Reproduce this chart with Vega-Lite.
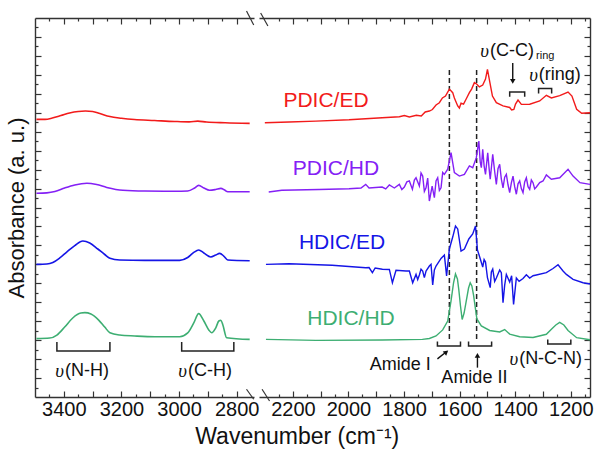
{
  "$schema": "https://vega.github.io/schema/vega-lite/v6.json",
  "background": "white",
  "padding": {"left": 5, "top": 10, "right": 5, "bottom": 2},
  "spacing": 0,
  "config": {
    "view": {"stroke": null},
    "font": "Liberation Sans",
    "axis": {"grid": false, "domainColor": "#333", "domainWidth": 1.4, "tickColor": "#333", "tickWidth": 1.2, "labelColor": "#111", "labelFontSize": 20, "titleColor": "#111", "titleFontWeight": "normal"},
    "text": {"font": "Liberation Sans"}
  },
  "title": {"text": "Wavenumber (cm⁻¹)", "orient": "bottom", "anchor": "middle", "fontSize": 23, "fontWeight": "normal", "color": "#111", "offset": 4, "dx": -2},
  "datasets": {
    "leftSpectra": [
      {"s":"PDIC/ED","w":3495,"a":14.65},{"s":"PDIC/ED","w":3465,"a":14.65},{"s":"PDIC/ED","w":3440,"a":14.72},{"s":"PDIC/ED","w":3410,"a":14.85},{"s":"PDIC/ED","w":3380,"a":14.99},{"s":"PDIC/ED","w":3350,"a":15.07},{"s":"PDIC/ED","w":3325,"a":15.09},{"s":"PDIC/ED","w":3300,"a":15.07},{"s":"PDIC/ED","w":3275,"a":14.96},{"s":"PDIC/ED","w":3240,"a":14.80},{"s":"PDIC/ED","w":3200,"a":14.71},{"s":"PDIC/ED","w":3155,"a":14.64},{"s":"PDIC/ED","w":3085,"a":14.59},{"s":"PDIC/ED","w":3015,"a":14.54},{"s":"PDIC/ED","w":2965,"a":14.52},{"s":"PDIC/ED","w":2935,"a":14.56},{"s":"PDIC/ED","w":2905,"a":14.51},{"s":"PDIC/ED","w":2840,"a":14.47},{"s":"PDIC/ED","w":2755,"a":14.44},
      {"s":"PDIC/HD","w":3495,"a":10.75},{"s":"PDIC/HD","w":3459,"a":10.77},{"s":"PDIC/HD","w":3431,"a":10.84},{"s":"PDIC/HD","w":3397,"a":11.03},{"s":"PDIC/HD","w":3362,"a":11.19},{"s":"PDIC/HD","w":3320,"a":11.28},{"s":"PDIC/HD","w":3286,"a":11.21},{"s":"PDIC/HD","w":3251,"a":11.06},{"s":"PDIC/HD","w":3195,"a":10.91},{"s":"PDIC/HD","w":3119,"a":10.87},{"s":"PDIC/HD","w":3015,"a":10.86},{"s":"PDIC/HD","w":2970,"a":10.87},{"s":"PDIC/HD","w":2946,"a":11.03},{"s":"PDIC/HD","w":2932,"a":11.17},{"s":"PDIC/HD","w":2914,"a":11.03},{"s":"PDIC/HD","w":2894,"a":10.91},{"s":"PDIC/HD","w":2873,"a":10.95},{"s":"PDIC/HD","w":2855,"a":11.01},{"s":"PDIC/HD","w":2842,"a":10.92},{"s":"PDIC/HD","w":2831,"a":10.83},{"s":"PDIC/HD","w":2755,"a":10.83},
      {"s":"HDIC/ED","w":3495,"a":7.00},{"s":"HDIC/ED","w":3459,"a":7.02},{"s":"HDIC/ED","w":3438,"a":7.10},{"s":"HDIC/ED","w":3414,"a":7.34},{"s":"HDIC/ED","w":3390,"a":7.65},{"s":"HDIC/ED","w":3362,"a":7.99},{"s":"HDIC/ED","w":3334,"a":8.23},{"s":"HDIC/ED","w":3310,"a":8.13},{"s":"HDIC/ED","w":3282,"a":7.81},{"s":"HDIC/ED","w":3258,"a":7.52},{"s":"HDIC/ED","w":3240,"a":7.32},{"s":"HDIC/ED","w":3206,"a":7.23},{"s":"HDIC/ED","w":3119,"a":7.21},{"s":"HDIC/ED","w":2998,"a":7.21},{"s":"HDIC/ED","w":2970,"a":7.36},{"s":"HDIC/ED","w":2949,"a":7.63},{"s":"HDIC/ED","w":2932,"a":7.76},{"s":"HDIC/ED","w":2914,"a":7.60},{"s":"HDIC/ED","w":2890,"a":7.39},{"s":"HDIC/ED","w":2873,"a":7.49},{"s":"HDIC/ED","w":2859,"a":7.58},{"s":"HDIC/ED","w":2845,"a":7.44},{"s":"HDIC/ED","w":2831,"a":7.23},{"s":"HDIC/ED","w":2755,"a":7.19},
      {"s":"HDIC/HD","w":3495,"a":3.08},{"s":"HDIC/HD","w":3449,"a":3.11},{"s":"HDIC/HD","w":3424,"a":3.27},{"s":"HDIC/HD","w":3397,"a":3.69},{"s":"HDIC/HD","w":3369,"a":4.17},{"s":"HDIC/HD","w":3341,"a":4.43},{"s":"HDIC/HD","w":3327,"a":4.45},{"s":"HDIC/HD","w":3306,"a":4.38},{"s":"HDIC/HD","w":3279,"a":4.06},{"s":"HDIC/HD","w":3258,"a":3.69},{"s":"HDIC/HD","w":3240,"a":3.39},{"s":"HDIC/HD","w":3206,"a":3.27},{"s":"HDIC/HD","w":3154,"a":3.22},{"s":"HDIC/HD","w":3084,"a":3.18},{"s":"HDIC/HD","w":2998,"a":3.18},{"s":"HDIC/HD","w":2970,"a":3.38},{"s":"HDIC/HD","w":2949,"a":3.91},{"s":"HDIC/HD","w":2932,"a":4.40},{"s":"HDIC/HD","w":2914,"a":4.01},{"s":"HDIC/HD","w":2897,"a":3.54},{"s":"HDIC/HD","w":2887,"a":3.39},{"s":"HDIC/HD","w":2873,"a":3.64},{"s":"HDIC/HD","w":2862,"a":4.01},{"s":"HDIC/HD","w":2855,"a":4.05},{"s":"HDIC/HD","w":2848,"a":3.80},{"s":"HDIC/HD","w":2835,"a":3.13},{"s":"HDIC/HD","w":2755,"a":3.04}
    ],
    "rightSpectra": [
      {"s":"PDIC/ED","w":2301,"a":14.47},{"s":"PDIC/ED","w":2214,"a":14.51},{"s":"PDIC/ED","w":2117,"a":14.56},{"s":"PDIC/ED","w":1998,"a":14.63},{"s":"PDIC/ED","w":1879,"a":14.74},{"s":"PDIC/ED","w":1817,"a":14.79},{"s":"PDIC/ED","w":1799,"a":14.85},{"s":"PDIC/ED","w":1781,"a":14.78},{"s":"PDIC/ED","w":1756,"a":14.87},{"s":"PDIC/ED","w":1738,"a":14.83},{"s":"PDIC/ED","w":1724,"a":15.04},{"s":"PDIC/ED","w":1709,"a":15.09},{"s":"PDIC/ED","w":1698,"a":15.17},{"s":"PDIC/ED","w":1685,"a":15.41},{"s":"PDIC/ED","w":1673,"a":15.53},{"s":"PDIC/ED","w":1662,"a":15.78},{"s":"PDIC/ED","w":1651,"a":15.88},{"s":"PDIC/ED","w":1637,"a":16.25},{"s":"PDIC/ED","w":1625,"a":16.06},{"s":"PDIC/ED","w":1619,"a":15.78},{"s":"PDIC/ED","w":1607,"a":15.36},{"s":"PDIC/ED","w":1601,"a":15.25},{"s":"PDIC/ED","w":1595,"a":15.51},{"s":"PDIC/ED","w":1586,"a":15.46},{"s":"PDIC/ED","w":1577,"a":15.71},{"s":"PDIC/ED","w":1565,"a":16.06},{"s":"PDIC/ED","w":1557,"a":16.25},{"s":"PDIC/ED","w":1547,"a":16.59},{"s":"PDIC/ED","w":1539,"a":16.52},{"s":"PDIC/ED","w":1529,"a":16.36},{"s":"PDIC/ED","w":1517,"a":16.46},{"s":"PDIC/ED","w":1507,"a":16.78},{"s":"PDIC/ED","w":1500,"a":17.29},{"s":"PDIC/ED","w":1490,"a":16.50},{"s":"PDIC/ED","w":1482,"a":15.88},{"s":"PDIC/ED","w":1468,"a":15.53},{"s":"PDIC/ED","w":1444,"a":15.36},{"s":"PDIC/ED","w":1420,"a":15.28},{"s":"PDIC/ED","w":1413,"a":15.15},{"s":"PDIC/ED","w":1405,"a":15.18},{"s":"PDIC/ED","w":1399,"a":15.46},{"s":"PDIC/ED","w":1390,"a":15.67},{"s":"PDIC/ED","w":1378,"a":15.44},{"s":"PDIC/ED","w":1348,"a":15.45},{"s":"PDIC/ED","w":1312,"a":15.62},{"s":"PDIC/ED","w":1288,"a":15.92},{"s":"PDIC/ED","w":1270,"a":15.78},{"s":"PDIC/ED","w":1240,"a":15.90},{"s":"PDIC/ED","w":1210,"a":16.09},{"s":"PDIC/ED","w":1196,"a":15.88},{"s":"PDIC/ED","w":1179,"a":15.18},{"s":"PDIC/ED","w":1161,"a":14.97},{"s":"PDIC/ED","w":1131,"a":15.00},
      {"s":"PDIC/HD","w":2287,"a":10.82},{"s":"PDIC/HD","w":2240,"a":10.91},{"s":"PDIC/HD","w":2106,"a":10.95},{"s":"PDIC/HD","w":1998,"a":10.99},{"s":"PDIC/HD","w":1955,"a":11.03},{"s":"PDIC/HD","w":1938,"a":11.22},{"s":"PDIC/HD","w":1926,"a":11.03},{"s":"PDIC/HD","w":1879,"a":11.08},{"s":"PDIC/HD","w":1866,"a":10.98},{"s":"PDIC/HD","w":1853,"a":11.19},{"s":"PDIC/HD","w":1835,"a":11.03},{"s":"PDIC/HD","w":1817,"a":11.22},{"s":"PDIC/HD","w":1808,"a":10.95},{"s":"PDIC/HD","w":1799,"a":11.08},{"s":"PDIC/HD","w":1790,"a":11.35},{"s":"PDIC/HD","w":1781,"a":11.40},{"s":"PDIC/HD","w":1770,"a":10.96},{"s":"PDIC/HD","w":1763,"a":11.45},{"s":"PDIC/HD","w":1757,"a":11.57},{"s":"PDIC/HD","w":1745,"a":11.13},{"s":"PDIC/HD","w":1739,"a":11.82},{"s":"PDIC/HD","w":1733,"a":11.66},{"s":"PDIC/HD","w":1727,"a":10.85},{"s":"PDIC/HD","w":1721,"a":11.04},{"s":"PDIC/HD","w":1715,"a":11.55},{"s":"PDIC/HD","w":1709,"a":10.34},{"s":"PDIC/HD","w":1699,"a":11.13},{"s":"PDIC/HD","w":1691,"a":10.52},{"s":"PDIC/HD","w":1685,"a":11.40},{"s":"PDIC/HD","w":1679,"a":11.57},{"s":"PDIC/HD","w":1673,"a":10.90},{"s":"PDIC/HD","w":1667,"a":11.04},{"s":"PDIC/HD","w":1661,"a":11.85},{"s":"PDIC/HD","w":1655,"a":11.75},{"s":"PDIC/HD","w":1643,"a":12.02},{"s":"PDIC/HD","w":1631,"a":12.89},{"s":"PDIC/HD","w":1619,"a":11.84},{"s":"PDIC/HD","w":1601,"a":11.66},{"s":"PDIC/HD","w":1583,"a":11.75},{"s":"PDIC/HD","w":1565,"a":12.19},{"s":"PDIC/HD","w":1553,"a":12.10},{"s":"PDIC/HD","w":1540,"a":12.63},{"s":"PDIC/HD","w":1531,"a":13.51},{"s":"PDIC/HD","w":1526,"a":12.40},{"s":"PDIC/HD","w":1522,"a":12.10},{"s":"PDIC/HD","w":1517,"a":13.07},{"s":"PDIC/HD","w":1512,"a":12.20},{"s":"PDIC/HD","w":1507,"a":11.75},{"s":"PDIC/HD","w":1499,"a":12.89},{"s":"PDIC/HD","w":1494,"a":12.05},{"s":"PDIC/HD","w":1490,"a":11.49},{"s":"PDIC/HD","w":1481,"a":12.81},{"s":"PDIC/HD","w":1474,"a":11.90},{"s":"PDIC/HD","w":1468,"a":11.22},{"s":"PDIC/HD","w":1462,"a":12.05},{"s":"PDIC/HD","w":1456,"a":12.28},{"s":"PDIC/HD","w":1450,"a":11.50},{"s":"PDIC/HD","w":1444,"a":11.04},{"s":"PDIC/HD","w":1438,"a":11.60},{"s":"PDIC/HD","w":1432,"a":11.75},{"s":"PDIC/HD","w":1426,"a":11.20},{"s":"PDIC/HD","w":1420,"a":10.78},{"s":"PDIC/HD","w":1414,"a":11.30},{"s":"PDIC/HD","w":1408,"a":11.66},{"s":"PDIC/HD","w":1402,"a":11.10},{"s":"PDIC/HD","w":1396,"a":10.70},{"s":"PDIC/HD","w":1390,"a":11.25},{"s":"PDIC/HD","w":1384,"a":11.40},{"s":"PDIC/HD","w":1378,"a":11.00},{"s":"PDIC/HD","w":1372,"a":10.78},{"s":"PDIC/HD","w":1366,"a":11.35},{"s":"PDIC/HD","w":1360,"a":11.57},{"s":"PDIC/HD","w":1354,"a":11.10},{"s":"PDIC/HD","w":1348,"a":10.96},{"s":"PDIC/HD","w":1342,"a":11.45},{"s":"PDIC/HD","w":1336,"a":11.31},{"s":"PDIC/HD","w":1330,"a":10.98},{"s":"PDIC/HD","w":1324,"a":11.08},{"s":"PDIC/HD","w":1312,"a":11.31},{"s":"PDIC/HD","w":1300,"a":11.40},{"s":"PDIC/HD","w":1288,"a":11.72},{"s":"PDIC/HD","w":1270,"a":11.49},{"s":"PDIC/HD","w":1240,"a":11.57},{"s":"PDIC/HD","w":1210,"a":12.02},{"s":"PDIC/HD","w":1192,"a":11.66},{"s":"PDIC/HD","w":1167,"a":11.31},{"s":"PDIC/HD","w":1131,"a":11.22},
      {"s":"HDIC/ED","w":2297,"a":7.00},{"s":"HDIC/ED","w":2214,"a":7.03},{"s":"HDIC/ED","w":2059,"a":6.95},{"s":"HDIC/ED","w":1938,"a":6.82},{"s":"HDIC/ED","w":1926,"a":6.83},{"s":"HDIC/ED","w":1914,"a":6.56},{"s":"HDIC/ED","w":1904,"a":6.81},{"s":"HDIC/ED","w":1878,"a":6.74},{"s":"HDIC/ED","w":1853,"a":6.73},{"s":"HDIC/ED","w":1842,"a":6.03},{"s":"HDIC/ED","w":1829,"a":6.69},{"s":"HDIC/ED","w":1793,"a":6.65},{"s":"HDIC/ED","w":1781,"a":6.65},{"s":"HDIC/ED","w":1769,"a":6.03},{"s":"HDIC/ED","w":1757,"a":6.47},{"s":"HDIC/ED","w":1751,"a":6.20},{"s":"HDIC/ED","w":1745,"a":6.44},{"s":"HDIC/ED","w":1739,"a":6.75},{"s":"HDIC/ED","w":1733,"a":6.65},{"s":"HDIC/ED","w":1727,"a":6.30},{"s":"HDIC/ED","w":1721,"a":6.65},{"s":"HDIC/ED","w":1709,"a":6.91},{"s":"HDIC/ED","w":1703,"a":7.00},{"s":"HDIC/ED","w":1697,"a":5.91},{"s":"HDIC/ED","w":1691,"a":6.70},{"s":"HDIC/ED","w":1685,"a":6.91},{"s":"HDIC/ED","w":1667,"a":7.31},{"s":"HDIC/ED","w":1655,"a":7.49},{"s":"HDIC/ED","w":1647,"a":6.39},{"s":"HDIC/ED","w":1637,"a":7.81},{"s":"HDIC/ED","w":1625,"a":8.44},{"s":"HDIC/ED","w":1615,"a":9.02},{"s":"HDIC/ED","w":1607,"a":8.87},{"s":"HDIC/ED","w":1595,"a":7.70},{"s":"HDIC/ED","w":1583,"a":7.81},{"s":"HDIC/ED","w":1567,"a":8.34},{"s":"HDIC/ED","w":1553,"a":8.60},{"s":"HDIC/ED","w":1543,"a":9.02},{"s":"HDIC/ED","w":1536,"a":7.76},{"s":"HDIC/ED","w":1529,"a":7.44},{"s":"HDIC/ED","w":1517,"a":6.86},{"s":"HDIC/ED","w":1512,"a":7.25},{"s":"HDIC/ED","w":1507,"a":7.12},{"s":"HDIC/ED","w":1500,"a":6.30},{"s":"HDIC/ED","w":1490,"a":5.77},{"s":"HDIC/ED","w":1486,"a":6.60},{"s":"HDIC/ED","w":1481,"a":6.75},{"s":"HDIC/ED","w":1474,"a":6.10},{"s":"HDIC/ED","w":1468,"a":6.28},{"s":"HDIC/ED","w":1456,"a":6.70},{"s":"HDIC/ED","w":1450,"a":6.56},{"s":"HDIC/ED","w":1444,"a":4.98},{"s":"HDIC/ED","w":1438,"a":5.90},{"s":"HDIC/ED","w":1432,"a":6.47},{"s":"HDIC/ED","w":1420,"a":6.07},{"s":"HDIC/ED","w":1413,"a":6.40},{"s":"HDIC/ED","w":1406,"a":4.89},{"s":"HDIC/ED","w":1396,"a":6.28},{"s":"HDIC/ED","w":1386,"a":6.10},{"s":"HDIC/ED","w":1372,"a":6.25},{"s":"HDIC/ED","w":1360,"a":6.45},{"s":"HDIC/ED","w":1348,"a":6.28},{"s":"HDIC/ED","w":1336,"a":6.40},{"s":"HDIC/ED","w":1324,"a":6.44},{"s":"HDIC/ED","w":1288,"a":6.56},{"s":"HDIC/ED","w":1264,"a":6.78},{"s":"HDIC/ED","w":1246,"a":6.98},{"s":"HDIC/ED","w":1228,"a":6.65},{"s":"HDIC/ED","w":1216,"a":6.47},{"s":"HDIC/ED","w":1192,"a":6.21},{"s":"HDIC/ED","w":1156,"a":6.03},{"s":"HDIC/ED","w":1131,"a":5.96},
      {"s":"HDIC/HD","w":2297,"a":3.04},{"s":"HDIC/HD","w":2117,"a":2.99},{"s":"HDIC/HD","w":1879,"a":3.01},{"s":"HDIC/HD","w":1734,"a":3.04},{"s":"HDIC/HD","w":1709,"a":3.09},{"s":"HDIC/HD","w":1685,"a":3.22},{"s":"HDIC/HD","w":1661,"a":3.54},{"s":"HDIC/HD","w":1643,"a":4.01},{"s":"HDIC/HD","w":1631,"a":5.07},{"s":"HDIC/HD","w":1622,"a":6.02},{"s":"HDIC/HD","w":1615,"a":6.49},{"s":"HDIC/HD","w":1608,"a":6.23},{"s":"HDIC/HD","w":1603,"a":5.65},{"s":"HDIC/HD","w":1597,"a":4.80},{"s":"HDIC/HD","w":1591,"a":4.09},{"s":"HDIC/HD","w":1584,"a":4.43},{"s":"HDIC/HD","w":1577,"a":5.01},{"s":"HDIC/HD","w":1568,"a":5.75},{"s":"HDIC/HD","w":1562,"a":6.03},{"s":"HDIC/HD","w":1556,"a":5.86},{"s":"HDIC/HD","w":1550,"a":5.38},{"s":"HDIC/HD","w":1538,"a":4.12},{"s":"HDIC/HD","w":1522,"a":3.75},{"s":"HDIC/HD","w":1492,"a":3.51},{"s":"HDIC/HD","w":1456,"a":3.43},{"s":"HDIC/HD","w":1438,"a":3.56},{"s":"HDIC/HD","w":1420,"a":3.32},{"s":"HDIC/HD","w":1384,"a":3.18},{"s":"HDIC/HD","w":1336,"a":3.14},{"s":"HDIC/HD","w":1288,"a":3.31},{"s":"HDIC/HD","w":1269,"a":3.59},{"s":"HDIC/HD","w":1254,"a":3.80},{"s":"HDIC/HD","w":1240,"a":3.94},{"s":"HDIC/HD","w":1225,"a":3.80},{"s":"HDIC/HD","w":1210,"a":3.51},{"s":"HDIC/HD","w":1179,"a":3.13},{"s":"HDIC/HD","w":1131,"a":3.02}
    ],
    "leftBrackets": [
      {"id":"NH","o":0,"w":3424,"a":2.90},{"id":"NH","o":1,"w":3424,"a":2.43},{"id":"NH","o":2,"w":3240,"a":2.43},{"id":"NH","o":3,"w":3240,"a":2.90},
      {"id":"CH","o":0,"w":2991,"a":2.90},{"id":"CH","o":1,"w":2991,"a":2.43},{"id":"CH","o":2,"w":2810,"a":2.43},{"id":"CH","o":3,"w":2810,"a":2.90}
    ],
    "rightBrackets": [
      {"id":"CC","o":0,"w":1420,"a":15.85},{"id":"CC","o":1,"w":1420,"a":16.10},{"id":"CC","o":2,"w":1366,"a":16.10},{"id":"CC","o":3,"w":1366,"a":15.85},
      {"id":"ring","o":0,"w":1316,"a":16.01},{"id":"ring","o":1,"w":1316,"a":16.28},{"id":"ring","o":2,"w":1269,"a":16.28},{"id":"ring","o":3,"w":1269,"a":16.01},
      {"id":"AmI","o":0,"w":1680,"a":2.93},{"id":"AmI","o":1,"w":1680,"a":2.69},{"id":"AmI","o":2,"w":1597,"a":2.69},{"id":"AmI","o":3,"w":1597,"a":2.93},
      {"id":"AmII","o":0,"w":1568,"a":2.93},{"id":"AmII","o":1,"w":1568,"a":2.69},{"id":"AmII","o":2,"w":1485,"a":2.69},{"id":"AmII","o":3,"w":1485,"a":2.93},
      {"id":"NCN","o":0,"w":1283,"a":3.03},{"id":"NCN","o":1,"w":1283,"a":2.80},{"id":"NCN","o":2,"w":1200,"a":2.80},{"id":"NCN","o":3,"w":1200,"a":3.03}
    ],
    "leftModes": [
      {"t":"(N-H)","w":3396,"a":1.37},
      {"t":"(C-H)","w":2969,"a":1.37}
    ],
    "rightModes": [
      {"t":"(N-C-N)","w":1386,"a":2.01},
      {"t":"(C-C)","w":1491,"a":18.26},
      {"t":"(ring)","w":1315,"a":16.99}
    ],
    "amideNotes": [
      {"t":"Amide I","w":1814,"a":1.69},
      {"t":"Amide II","w":1547,"a":1.00}
    ],
    "seriesLabels": [
      {"s":"PDIC/ED","w":2081,"a":15.62},
      {"s":"PDIC/HD","w":2045,"a":12.03},
      {"s":"HDIC/ED","w":2023,"a":8.13},
      {"s":"HDIC/HD","w":1991,"a":4.12}
    ],
    "amideLines": [
      {"w":1637,"a1":3.06,"a2":17.31},
      {"w":1539,"a1":3.06,"a2":17.31}
    ],
    "arrows": [
      {"w1":1409,"a1":17.63,"w2":1409,"a2":16.75},
      {"w1":1680,"a1":2.01,"w2":1650,"a2":2.36},
      {"w1":1536,"a1":1.55,"w2":1536,"a2":2.15}
    ],
    "leftBreaks": [
      {"w1":2766,"a1":20.37,"w2":2741,"a2":19.63},
      {"w1":2766,"a1":0.41,"w2":2741,"a2":-0.12}
    ],
    "rightBreaks": [
      {"w1":2316,"a1":20.26,"w2":2290,"a2":19.58},
      {"w1":2311,"a1":0.41,"w2":2284,"a2":-0.21}
    ]
  },
  "hconcat": [
    {
      "width": 219,
      "height": 379,
      "layer": [
        {
          "data": {"name": "leftSpectra"},
          "mark": {"type": "line", "strokeWidth": 1.6, "interpolate": "monotone"},
          "encoding": {
            "x": {"field": "w", "type": "quantitative", "scale": {"domain": [2740, 3500], "reverse": true, "nice": false, "zero": false},
              "axis": {"orient": "bottom", "title": null, "format": "d", "values": [2800,2850,2900,2950,3000,3050,3100,3150,3200,3250,3300,3350,3400,3450],
                "labelExpr": "datum.value % 200 === 0 ? datum.label : ''", "labelOverlap": false, "labelFlush": false, "labelPadding": 8,
                "tickSize": {"condition": {"test": "datum.value % 100 === 0", "value": -6}, "value": -3}}},
            "y": {"field": "a", "type": "quantitative", "scale": {"domain": [0, 20], "nice": false, "zero": false},
              "axis": {"orient": "left", "title": "Absorbance (a. u.)", "titleFontSize": 22, "titlePadding": 6, "labels": false,
                "values": [0.5,1,1.5,2,2.5,3,3.5,4,4.5,5,5.5,6,6.5,7,7.5,8,8.5,9,9.5,10,10.5,11,11.5,12,12.5,13,13.5,14,14.5,15,15.5,16,16.5,17,17.5,18,18.5,19,19.5],
                "tickSize": {"condition": {"test": "datum.value % 1 === 0", "value": -6}, "value": -3}}},
            "color": {"field": "s", "type": "nominal", "legend": null,
              "scale": {"domain": ["PDIC/ED", "PDIC/HD", "HDIC/ED", "HDIC/HD"], "range": ["#f21b1b", "#8420f5", "#1515e6", "#3dae72"]}}
          }
        },
        {
          "data": {"name": "leftBrackets"},
          "mark": {"type": "line", "color": "#222", "strokeWidth": 1.5},
          "encoding": {
            "x": {"field": "w", "type": "quantitative", "scale": {"domain": [2740, 3500], "reverse": true, "nice": false, "zero": false},
              "axis": {"orient": "top", "title": null, "labels": false, "values": [2800,2850,2900,2950,3000,3050,3100,3150,3200,3250,3300,3350,3400,3450],
                "tickSize": {"condition": {"test": "datum.value % 100 === 0", "value": -6}, "value": -3}}},
            "y": {"field": "a", "type": "quantitative", "axis": null},
            "detail": {"field": "id"},
            "order": {"field": "o"}
          }
        },
        {
          "data": {"name": "leftModes"},
          "mark": {"type": "text", "fontSize": 18, "color": "#111", "align": "left", "baseline": "middle"},
          "encoding": {
            "x": {"field": "w", "type": "quantitative", "axis": null},
            "y": {"field": "a", "type": "quantitative", "axis": null},
            "text": {"field": "t"}
          }
        },
        {
          "data": {"name": "leftModes"},
          "mark": {"type": "text", "font": "Liberation Serif", "fontStyle": "italic", "fontSize": 19, "color": "#111", "align": "right", "baseline": "middle", "dx": -1},
          "encoding": {
            "x": {"field": "w", "type": "quantitative", "axis": null},
            "y": {"field": "a", "type": "quantitative", "axis": null},
            "text": {"value": "υ"}
          }
        },
        {
          "data": {"name": "leftBreaks"},
          "mark": {"type": "rule", "color": "#333", "strokeWidth": 1.2},
          "encoding": {
            "x": {"field": "w1", "type": "quantitative", "axis": null},
            "x2": {"field": "w2"},
            "y": {"field": "a1", "type": "quantitative", "axis": null},
            "y2": {"field": "a2"}
          }
        }
      ],
      "resolve": {"axis": {"x": "independent", "y": "independent"}}
    },
    {
      "width": 331,
      "height": 379,
      "layer": [
        {
          "data": {"name": "amideLines"},
          "mark": {"type": "rule", "color": "#222", "strokeWidth": 1.5, "strokeDash": [5, 3]},
          "encoding": {
            "x": {"field": "w", "type": "quantitative", "scale": {"domain": [1131, 2322], "reverse": true, "nice": false, "zero": false},
              "axis": {"orient": "top", "title": null, "labels": false, "values": [1150,1200,1250,1300,1350,1400,1450,1500,1550,1600,1650,1700,1750,1800,1850,1900,1950,2000,2050,2100,2150,2200,2250],
                "tickSize": {"condition": {"test": "datum.value % 100 === 0", "value": -6}, "value": -3}}},
            "y": {"field": "a1", "type": "quantitative", "scale": {"domain": [0, 20], "nice": false, "zero": false}, "axis": null},
            "y2": {"field": "a2"}
          }
        },
        {
          "data": {"name": "rightSpectra"},
          "mark": {"type": "line", "strokeWidth": 1.4},
          "encoding": {
            "x": {"field": "w", "type": "quantitative",
              "axis": {"orient": "bottom", "title": null, "format": "d", "values": [1150,1200,1250,1300,1350,1400,1450,1500,1550,1600,1650,1700,1750,1800,1850,1900,1950,2000,2050,2100,2150,2200,2250],
                "labelExpr": "datum.value % 200 === 0 ? datum.label : ''", "labelOverlap": false, "labelFlush": false, "labelPadding": 8,
                "tickSize": {"condition": {"test": "datum.value % 100 === 0", "value": -6}, "value": -3}}},
            "y": {"field": "a", "type": "quantitative",
              "axis": {"orient": "right", "title": null, "labels": false,
                "values": [0.5,1,1.5,2,2.5,3,3.5,4,4.5,5,5.5,6,6.5,7,7.5,8,8.5,9,9.5,10,10.5,11,11.5,12,12.5,13,13.5,14,14.5,15,15.5,16,16.5,17,17.5,18,18.5,19,19.5],
                "tickSize": {"condition": {"test": "datum.value % 1 === 0", "value": -6}, "value": -3}}},
            "color": {"field": "s", "type": "nominal", "legend": null,
              "scale": {"domain": ["PDIC/ED", "PDIC/HD", "HDIC/ED", "HDIC/HD"], "range": ["#f21b1b", "#8420f5", "#1515e6", "#3dae72"]}}
          }
        },
        {
          "data": {"name": "rightBrackets"},
          "mark": {"type": "line", "color": "#222", "strokeWidth": 1.5},
          "encoding": {
            "x": {"field": "w", "type": "quantitative", "axis": null},
            "y": {"field": "a", "type": "quantitative", "axis": null},
            "detail": {"field": "id"},
            "order": {"field": "o"}
          }
        },
        {
          "data": {"name": "arrows"},
          "mark": {"type": "rule", "color": "#111", "strokeWidth": 1.4},
          "encoding": {
            "x": {"field": "w1", "type": "quantitative", "axis": null},
            "x2": {"field": "w2"},
            "y": {"field": "a1", "type": "quantitative", "axis": null},
            "y2": {"field": "a2"}
          }
        },
        {
          "data": {"values": [{"w": 1409, "a": 16.66}]},
          "mark": {"type": "point", "shape": "triangle-down", "filled": true, "size": 30, "color": "#111", "opacity": 1},
          "encoding": {
            "x": {"field": "w", "type": "quantitative", "axis": null},
            "y": {"field": "a", "type": "quantitative", "axis": null}
          }
        },
        {
          "data": {"values": [{"w": 1536, "a": 2.2}]},
          "mark": {"type": "point", "shape": "triangle-up", "filled": true, "size": 30, "color": "#111", "opacity": 1},
          "encoding": {
            "x": {"field": "w", "type": "quantitative", "axis": null},
            "y": {"field": "a", "type": "quantitative", "axis": null}
          }
        },
        {
          "data": {"values": [{"w": 1648, "a": 2.37}]},
          "mark": {"type": "point", "shape": "triangle-up", "angle": 51, "filled": true, "size": 30, "color": "#111", "opacity": 1},
          "encoding": {
            "x": {"field": "w", "type": "quantitative", "axis": null},
            "y": {"field": "a", "type": "quantitative", "axis": null}
          }
        },
        {
          "data": {"name": "amideNotes"},
          "mark": {"type": "text", "fontSize": 18, "color": "#111", "align": "center", "baseline": "middle"},
          "encoding": {
            "x": {"field": "w", "type": "quantitative", "axis": null},
            "y": {"field": "a", "type": "quantitative", "axis": null},
            "text": {"field": "t"}
          }
        },
        {
          "data": {"name": "rightModes"},
          "mark": {"type": "text", "fontSize": 18, "color": "#111", "align": "left", "baseline": "middle"},
          "encoding": {
            "x": {"field": "w", "type": "quantitative", "axis": null},
            "y": {"field": "a", "type": "quantitative", "axis": null},
            "text": {"field": "t"}
          }
        },
        {
          "data": {"name": "rightModes"},
          "mark": {"type": "text", "font": "Liberation Serif", "fontStyle": "italic", "fontSize": 19, "color": "#111", "align": "right", "baseline": "middle", "dx": -1},
          "encoding": {
            "x": {"field": "w", "type": "quantitative", "axis": null},
            "y": {"field": "a", "type": "quantitative", "axis": null},
            "text": {"value": "υ"}
          }
        },
        {
          "data": {"values": [{"t": "ring", "w": 1325, "a": 17.98}]},
          "mark": {"type": "text", "fontSize": 11, "color": "#111", "align": "left", "baseline": "middle"},
          "encoding": {
            "x": {"field": "w", "type": "quantitative", "axis": null},
            "y": {"field": "a", "type": "quantitative", "axis": null},
            "text": {"field": "t"}
          }
        },
        {
          "data": {"name": "seriesLabels"},
          "mark": {"type": "text", "fontSize": 21, "align": "center", "baseline": "middle"},
          "encoding": {
            "x": {"field": "w", "type": "quantitative", "axis": null},
            "y": {"field": "a", "type": "quantitative", "axis": null},
            "text": {"field": "s"},
            "color": {"field": "s", "type": "nominal", "legend": null}
          }
        },
        {
          "data": {"name": "rightBreaks"},
          "mark": {"type": "rule", "color": "#333", "strokeWidth": 1.2},
          "encoding": {
            "x": {"field": "w1", "type": "quantitative", "axis": null},
            "x2": {"field": "w2"},
            "y": {"field": "a1", "type": "quantitative", "axis": null},
            "y2": {"field": "a2"}
          }
        }
      ],
      "resolve": {"axis": {"x": "independent", "y": "independent"}}
    }
  ]
}
